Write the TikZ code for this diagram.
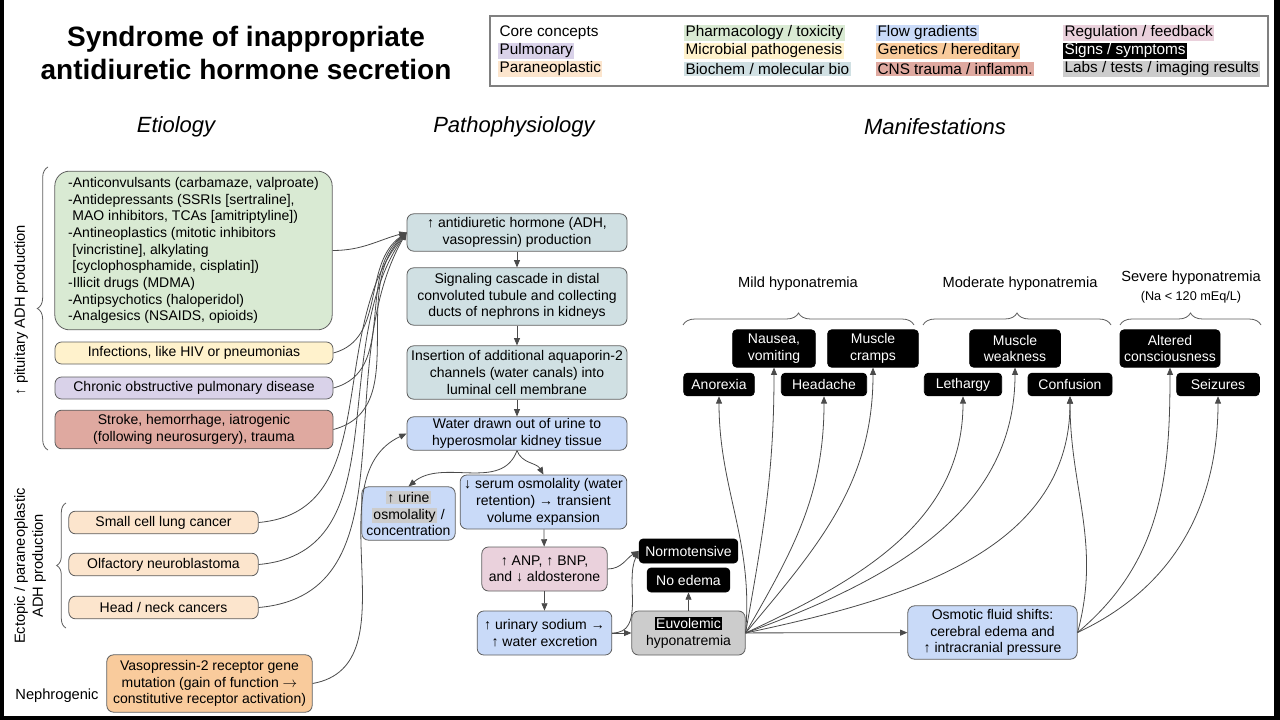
\documentclass[tikz,border=0pt]{standalone}
\usepackage{fontspec}
\setmainfont{Liberation Sans}
\usepackage{xcolor}
\definecolor{pharmGreen}{HTML}{D9EAD3}
\definecolor{microYellow}{HTML}{FFF2CC}
\definecolor{biochemTeal}{HTML}{D0E0E3}
\definecolor{flowBlue}{HTML}{C9DAF8}
\definecolor{geneOrange}{HTML}{F9CB9C}
\definecolor{cnsRed}{HTML}{DFA9A0}
\definecolor{pulmPurple}{HTML}{D9D2E9}
\definecolor{paraPeach}{HTML}{FCE5CD}
\definecolor{regPink}{HTML}{EAD1DC}
\definecolor{labGray}{HTML}{CCCCCC}
\definecolor{edgeGray}{HTML}{5F5F5F}
\definecolor{arrowGray}{HTML}{4A4A4A}
\usepackage{tikz}
\usetikzlibrary{
    arrows.meta,
    positioning,
    decorations.pathreplacing
}
\newcommand{\hilite}[2]{{\setlength{\fboxsep}{1pt}\colorbox{#1}{#2}}}
\tikzset{
    % Base style for all boxes
    box base/.style={
        font=\fontsize{10.5}{12.5}\selectfont,
        align=center,
        text=black,
        rounded corners=5pt,
        draw=edgeGray,
        line width=0.6pt,
        inner sep=1pt,
    },
    % Category boxes
    pharm box/.style={box base, fill=pharmGreen},
    micro box/.style={box base, fill=microYellow},
    pulm box/.style={box base, fill=pulmPurple},
    cns box/.style={box base, fill=cnsRed},
    para box/.style={box base, fill=paraPeach},
    gene box/.style={box base, fill=geneOrange},
    biochem box/.style={box base, fill=biochemTeal},
    flow box/.style={box base, fill=flowBlue},
    reg box/.style={box base, fill=regPink},
    lab box/.style={box base, fill=labGray},
    % Signs / symptoms - black with white text
    sign box/.style={
        box base,
        fill=black,
        draw=black,
        text=white,
        rounded corners=3pt,
    },
    % Connector
    arrow/.style={
        -{Triangle[length=5.5pt, width=4.5pt]},
        draw=arrowGray,
        line width=0.6pt,
    },
    % Curly brace
    curly/.style={
        decorate,
        decoration={brace, amplitude=#1},
        draw=edgeGray,
        line width=0.6pt,
    },
    % Legend entries
    legend item/.style={
        font=\fontsize{11.5}{13}\selectfont,
        anchor=west,
        inner sep=1pt,
    },
    % Column headings
    heading/.style={font=\fontsize{16.5}{20}\selectfont\itshape},
    side label/.style={font=\fontsize{11}{13.5}\selectfont, align=center},
}

\begin{document}
\begin{tikzpicture}[x=0.75pt, y=-0.75pt]
    % frame
    \fill[black] (0,0) rectangle (1280,720);
    \fill[white] (4,0) rectangle (1274,716);

    % title and legend
    \node (title) [font=\fontsize{21}{25}\selectfont\bfseries, align=center] at (246,53)
        {Syndrome of inappropriate\\antidiuretic hormone secretion};
    \draw[gray, line width=0.8pt] (490,16) rectangle (1268,86);
    \node (lgCore) [legend item] at (498,33) {Core concepts};
    \node (lgPulm) [legend item, fill=pulmPurple] at (498,51) {Pulmonary};
    \node (lgPara) [legend item, fill=paraPeach] at (498,69) {Paraneoplastic};
    \node (lgPharm) [legend item, fill=pharmGreen] at (684,33) {Pharmacology / toxicity};
    \node (lgMicro) [legend item, fill=microYellow] at (684,51) {Microbial pathogenesis};
    \node (lgBio) [legend item, fill=biochemTeal] at (684,69) {Biochem / molecular bio};
    \node (lgFlow) [legend item, fill=flowBlue] at (876,33) {Flow gradients};
    \node (lgGene) [legend item, fill=geneOrange] at (876,51) {Genetics / hereditary};
    \node (lgCns) [legend item, fill=cnsRed] at (876,69) {CNS trauma / inflamm.};
    \node (lgReg) [legend item, fill=regPink] at (1063,33) {Regulation / feedback};
    \node (lgSign) [legend item, fill=black, text=white] at (1063,51) {Signs / symptoms};
    \node (lgLab) [legend item, fill=labGray] at (1063,69) {Labs / tests / imaging results};

    % column headings
    \node (hEtio) [heading] at (176,127) {Etiology};
    \node (hPatho) [heading] at (514,127) {Pathophysiology};
    \node (hMani) [heading] at (935,127) {Manifestations};

    % etiology
    \node (pharm) [pharm box, align=left, rounded corners=11pt, minimum width=208pt, minimum height=119pt] at (193.5,250.5)
        {-Anticonvulsants (carbamaze, valproate)\\-Antidepressants (SSRIs [sertraline],\\\hspace*{0.3em}MAO inhibitors, TCAs [amitriptyline])\\-Antineoplastics (mitotic inhibitors\\\hspace*{0.3em}[vincristine], alkylating\\\hspace*{0.3em}[cyclophosphamide, cisplatin])\\-Illicit drugs (MDMA)\\-Antipsychotics (haloperidol)\\-Analgesics (NSAIDS, opioids)};
    \node (infect) [micro box, minimum width=208.5pt, minimum height=16.5pt] at (194,353) {Infections, like HIV or pneumonias};
    \node (copd) [pulm box, minimum width=208.5pt, minimum height=16.5pt] at (194,388) {Chronic obstructive pulmonary disease};
    \node (stroke) [cns box, minimum width=208.5pt, minimum height=29pt] at (194,429.5) {Stroke, hemorrhage, iatrogenic\\(following neurosurgery), trauma};
    \node (sclc) [para box, minimum width=142pt, minimum height=17pt] at (163.5,522.5) {Small cell lung cancer};
    \node (olf) [para box, minimum width=142pt, minimum height=17pt] at (163.5,564.5) {Olfactory neuroblastoma};
    \node (headneck) [para box, minimum width=142pt, minimum height=17pt] at (163.5,607.5) {Head / neck cancers};
    \node (vaso) [gene box, minimum width=154pt, minimum height=43pt] at (209.5,683.5)
        {Vasopressin-2 receptor gene\\mutation (gain of function \(\rightarrow\)\\constitutive receptor activation)};

    \draw[curly=8pt] (48,450) -- (48,167);
    \draw[curly=7pt] (66,628) -- (66,503);
    \node (lblPit) [side label, rotate=90] at (21,310) {↑ pituitary ADH production};
    \node (lblEct) [side label, rotate=90] at (30,566) {Ectopic / paraneoplastic\\ADH production};
    \node (lblNeph) [side label] at (57,696) {Nephrogenic};

    % pathophysiology
    \node (adh) [biochem box, minimum width=165pt, minimum height=28pt] at (517,232.5) {↑ antidiuretic hormone (ADH,\\vasopressin) production};
    \node (signal) [biochem box, minimum width=165pt, minimum height=43pt] at (517,296.5) {Signaling cascade in distal\\convoluted tubule and collecting\\ducts of nephrons in kidneys};
    \node (insert) [biochem box, minimum width=165pt, minimum height=40pt] at (517,372.5) {Insertion of additional aquaporin-2\\channels (water canals) into\\luminal cell membrane};
    \node (water) [flow box, minimum width=165pt, minimum height=25pt] at (517,433.5) {Water drawn out of urine to\\hyperosmolar kidney tissue};
    \node (urine) [flow box, minimum width=70pt, minimum height=40pt] at (408.5,513.5) {\hilite{labGray}{↑ urine}\\\hilite{labGray}{osmolality} /\\concentration};
    \node (serum) [flow box, minimum width=125pt, minimum height=40.5pt] at (543.5,502) {↓ serum osmolality (water\\retention) → transient\\volume expansion};
    \node (anp) [reg box, minimum width=94pt, minimum height=33pt] at (544.5,569) {↑ ANP, ↑ BNP,\\and ↓ aldosterone};
    \node (sodium) [flow box, minimum width=101pt, minimum height=33pt] at (544.5,633) {↑ urinary sodium →\\↑ water excretion};
    \node (euvol) [lab box, minimum width=85pt, minimum height=33pt] at (688.5,633) {\hilite{black}{\textcolor{white}{Euvolemic}}\\hyponatremia};
    \node (normo) [sign box, minimum width=74pt, minimum height=18pt] at (688.5,551) {Normotensive};
    \node (noedema) [sign box, minimum width=62pt, minimum height=18pt] at (688.5,580) {No edema};
    \node (osmotic) [flow box, minimum width=127pt, minimum height=40pt] at (992.5,632.5) {Osmotic fluid shifts:\\cerebral edema and\\↑ intracranial pressure};

    % manifestations
    \node (mild) [side label] at (798,284) {Mild hyponatremia};
    \node (moderate) [side label] at (1020,284) {Moderate hyponatremia};
    \node (severe) [side label] at (1191,287) {Severe hyponatremia\\{\fontsize{9.5}{11}\selectfont (Na < 120 mEq/L)}};
    \draw[curly=9pt] (683,325) -- (914,325);
    \draw[curly=9pt] (923,325) -- (1111,325);
    \draw[curly=9pt] (1120,325) -- (1261,325);
    \node (anorexia) [sign box, minimum width=53pt, minimum height=17pt] at (719,384.5) {Anorexia};
    \node (nausea) [sign box, minimum width=62pt, minimum height=28pt] at (774,348.5) {Nausea,\\vomiting};
    \node (headache) [sign box, minimum width=64pt, minimum height=17pt] at (824,384.5) {Headache};
    \node (cramps) [sign box, minimum width=68pt, minimum height=28pt] at (873,348.5) {Muscle\\cramps};
    \node (lethargy) [sign box, minimum width=58pt, minimum height=17pt] at (963,384.5) {Lethargy};
    \node (weakness) [sign box, minimum width=68pt, minimum height=28pt] at (1015,348.5) {Muscle\\weakness};
    \node (confusion) [sign box, minimum width=63pt, minimum height=17pt] at (1070,384.5) {Confusion};
    \node (altered) [sign box, minimum width=75pt, minimum height=28pt] at (1170,348.5) {Altered\\consciousness};
    \node (seizures) [sign box, minimum width=62pt, minimum height=17pt] at (1218,384.5) {Seizures};

    % etiology -> ADH
    \draw[arrow] (pharm.east) to[out=0, in=195] (adh.west);
    \draw[arrow] (infect.east) to[out=15, in=215] (adh.west);
    \draw[arrow] (copd.east) to[out=15, in=220] (adh.west);
    \draw[arrow] (stroke.east) to[out=15, in=225] (adh.west);
    \draw[arrow] (sclc.east) to[out=5, in=230] (adh.west);
    \draw[arrow] (olf.east) to[out=5, in=235] (adh.west);
    \draw[arrow] (headneck.east) to[out=5, in=240] (adh.west);
    \draw[arrow] (vaso.east) to[out=10, in=205] (water.west);

    % pathophysiology chain
    \draw[arrow] (adh) -- (signal);
    \draw[arrow] (signal) -- (insert);
    \draw[arrow] (insert) -- (water);
    \draw[arrow] (water.south) to[out=250, in=40] (urine.north);
    \draw[arrow] (water.south) to[out=290, in=120] (serum.north);
    \draw[arrow] (serum) -- (anp);
    \draw[arrow] (anp) -- (sodium);
    \draw[arrow] (sodium) -- (euvol);
    \draw[arrow] (euvol) -- (noedema);
    \draw[arrow] (anp.east) to[out=0, in=210] (normo.west);
    \draw[arrow] (sodium.east) to[out=0, in=245] (normo.west);
    \draw[arrow] (euvol) -- (osmotic);

    % hyponatremia -> signs
    \draw[arrow] (euvol.east) to[out=85, in=-90] (anorexia.south);
    \draw[arrow] (euvol.east) to[out=80, in=-90] (nausea.south);
    \draw[arrow] (euvol.east) to[out=60, in=-90] (headache.south);
    \draw[arrow] (euvol.east) to[out=50, in=-90] (cramps.south);
    \draw[arrow] (euvol.east) to[out=25, in=-90] (lethargy.south);
    \draw[arrow] (euvol.east) to[out=20, in=-90] (weakness.south);
    \draw[arrow] (euvol.east) to[out=12, in=-90] (confusion.south);
    \draw[arrow] (osmotic.east) to[out=75, in=-90] (confusion.south);
    \draw[arrow] (osmotic.east) to[out=40, in=-90] (altered.south);
    \draw[arrow] (osmotic.east) to[out=25, in=-90] (seizures.south);
\end{tikzpicture}
\end{document}
